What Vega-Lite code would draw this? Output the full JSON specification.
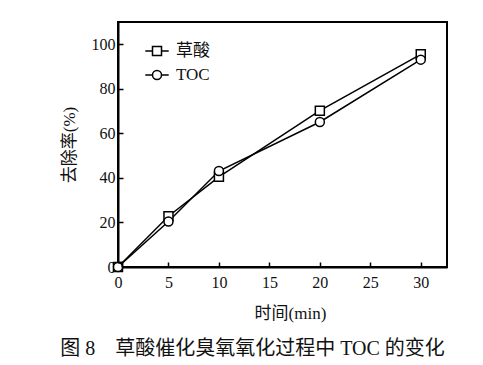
{
  "$schema": "https://vega.github.io/schema/vega-lite/v6.json",
  "width": 329,
  "height": 245,
  "autosize": {"type": "none"},
  "padding": {"left": 118, "top": 22, "right": 36, "bottom": 98},
  "background": "white",
  "config": {
    "view": {"stroke": "black", "strokeWidth": 2},
    "font": "Liberation Serif",
    "axis": {
      "domainColor": "black", "domainWidth": 2, "tickColor": "black", "tickWidth": 1.5,
      "tickSize": -5, "grid": false, "labelFont": "Liberation Serif", "labelFontSize": 16,
      "labelColor": "#111", "titleFont": "Liberation Serif, Noto Sans CJK SC", "titleFontSize": 17,
      "titleFontWeight": "normal", "titleColor": "#111"
    }
  },
  "title": {
    "text": "图 8\u00a0\u00a0\u00a0\u00a0草酸催化臭氧氧化过程中 TOC 的变化",
    "orient": "bottom",
    "font": "Liberation Serif, Noto Sans CJK SC",
    "fontSize": 20,
    "fontWeight": "normal",
    "color": "#111",
    "offset": 18,
    "anchor": "middle",
    "dx": -30
  },
  "data": {
    "values": [
      {"t": 0, "r": 0, "s": "草酸"},
      {"t": 5, "r": 22.8, "s": "草酸"},
      {"t": 10, "r": 40.5, "s": "草酸"},
      {"t": 20, "r": 70.2, "s": "草酸"},
      {"t": 30, "r": 95.5, "s": "草酸"},
      {"t": 0, "r": 0, "s": "TOC"},
      {"t": 5, "r": 20.4, "s": "TOC"},
      {"t": 10, "r": 43.1, "s": "TOC"},
      {"t": 20, "r": 65.1, "s": "TOC"},
      {"t": 30, "r": 93.1, "s": "TOC"}
    ]
  },
  "encoding": {
    "x": {
      "field": "t", "type": "quantitative",
      "scale": {"domain": [0, 32.6], "nice": false},
      "axis": {"values": [0, 5, 10, 15, 20, 25, 30], "labelPadding": 12, "title": "时间(min)", "titlePadding": 15, "titleX": 172, "labelFlush": false}
    },
    "y": {
      "field": "r", "type": "quantitative",
      "scale": {"domain": [0, 110], "nice": false},
      "axis": {"values": [0, 20, 40, 60, 80, 100], "labelPadding": 8, "title": "去除率(%)", "titlePadding": 13, "labelFlush": false}
    }
  },
  "layer": [
    {
      "mark": {"type": "line", "color": "black", "strokeWidth": 1.5},
      "encoding": {"detail": {"field": "s"}}
    },
    {
      "mark": {"type": "point", "filled": true, "fill": "white", "stroke": "black", "strokeWidth": 1.5, "size": 81, "opacity": 1},
      "encoding": {
        "shape": {
          "field": "s", "type": "nominal",
          "scale": {"domain": ["草酸", "TOC"], "range": ["M-1,-1H1V1H-1Z", "M-1,0A1,1,0,1,0,1,0A1,1,0,1,0,-1,0Z"]},
          "legend": null
        }
      }
    },
    {
      "transform": [{"filter": "datum.t == 0"}],
      "mark": {"type": "point", "filled": false, "stroke": "black", "strokeWidth": 1.5, "size": 81, "opacity": 1, "clip": true},
      "encoding": {
        "shape": {
          "field": "s", "type": "nominal",
          "scale": {"domain": ["草酸", "TOC"], "range": ["M-2.6,0H-1M1,0H2.6M-1,-1H1V1H-1Z", "M-2.6,0H-1M1,0H2.6M-1,0A1,1,0,1,0,1,0A1,1,0,1,0,-1,0Z"]},
          "legend": {
            "title": null,
            "orient": "none",
            "legendX": 30.5,
            "legendY": 20.5,
            "symbolSize": 81,
            "rowPadding": 6,
            "labelFont": "Liberation Serif, Noto Sans CJK SC",
            "labelFontSize": 17,
            "labelColor": "#111",
            "labelOffset": 10.5
          }
        }
      }
    }
  ],
  "resolve": {"scale": {"shape": "independent"}, "legend": {"shape": "independent"}}
}
